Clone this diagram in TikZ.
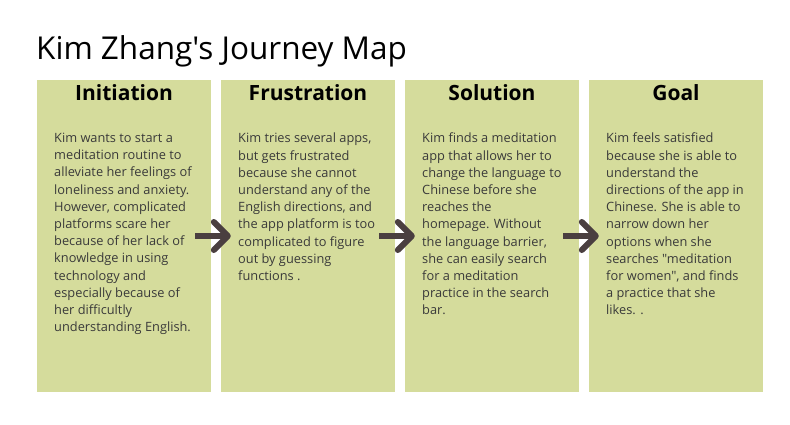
\documentclass[tikz,border=0pt]{standalone}
\usepackage{fontspec}
\setmainfont{Open Sans}[Ligatures=TeXOff]
\usetikzlibrary{arrows.meta, calc, positioning}
\definecolor{stagegreen}{HTML}{D5DC9C}
\definecolor{arrowgray}{HTML}{4A3F40}
\definecolor{bodygray}{HTML}{3A3A3A}

\begin{document}
\begin{tikzpicture}[x=1pt, y=-1pt,
  stage/.style={fill=stagegreen, minimum width=174pt, minimum height=312pt, inner sep=0pt},
  head/.style={font=\fontsize{21}{25}\selectfont\bfseries, anchor=base, inner sep=0pt},
  body/.style={font=\fontsize{12.8}{17.2}\selectfont, text=bodygray, align=left, anchor=north west, inner sep=0pt},
  flow/.style={draw=arrowgray, line width=6pt, shorten <=-16pt, shorten >=-10pt, -{Straight Barb[length=14pt, width=28pt, round]}}]
\useasboundingbox (0,0) rectangle (790,425);
\node[anchor=base west, inner sep=0pt, font=\fontsize{31.5}{37}\selectfont] (title) at (36,60) {Kim Zhang's Journey Map};
% the four stages
\node[stage] (init) at (124,236) {};
\node[stage] (frus) at (308,236) {};
\node[stage] (sol) at (492,236) {};
\node[stage] (goal) at (676,236) {};
\node[head] (initT) at (124,101) {Initiation};
\node[head] (frusT) at (308,101) {Frustration};
\node[head] (solT) at (492,101) {Solution};
\node[head] (goalT) at (676,101) {Goal};
\node[body] (initB) at (54,133) {Kim wants to start a\\meditation routine to\\alleviate her feelings of\\loneliness and anxiety.\\However, complicated\\platforms scare her\\because of her lack of\\knowledge in using\\technology and\\especially because of\\her difficultly\\understanding English.};
\node[body] (frusB) at (238,133) {Kim tries several apps,\\but gets frustrated\\because she cannot\\understand any of the\\English directions, and\\the app platform is too\\complicated to figure\\out by guessing\\functions .};
\node[body] (solB) at (422,133) {Kim finds a meditation\\app that allows her to\\change the language to\\Chinese before she\\reaches the\\homepage. Without\\the language barrier,\\she can easily search\\for a meditation\\practice in the search\\bar.};
\node[body] (goalB) at (606,133) {Kim feels satisfied\\because she is able to\\understand the\\directions of the app in\\Chinese. She is able to\\narrow down her\\options when she\\searches "meditation\\for women", and finds\\a practice that she\\likes. .};
% arrows between stages
\draw[flow] (init.east) -- (frus.west);
\draw[flow] (frus.east) -- (sol.west);
\draw[flow] (sol.east) -- (goal.west);
\end{tikzpicture}
\end{document}
